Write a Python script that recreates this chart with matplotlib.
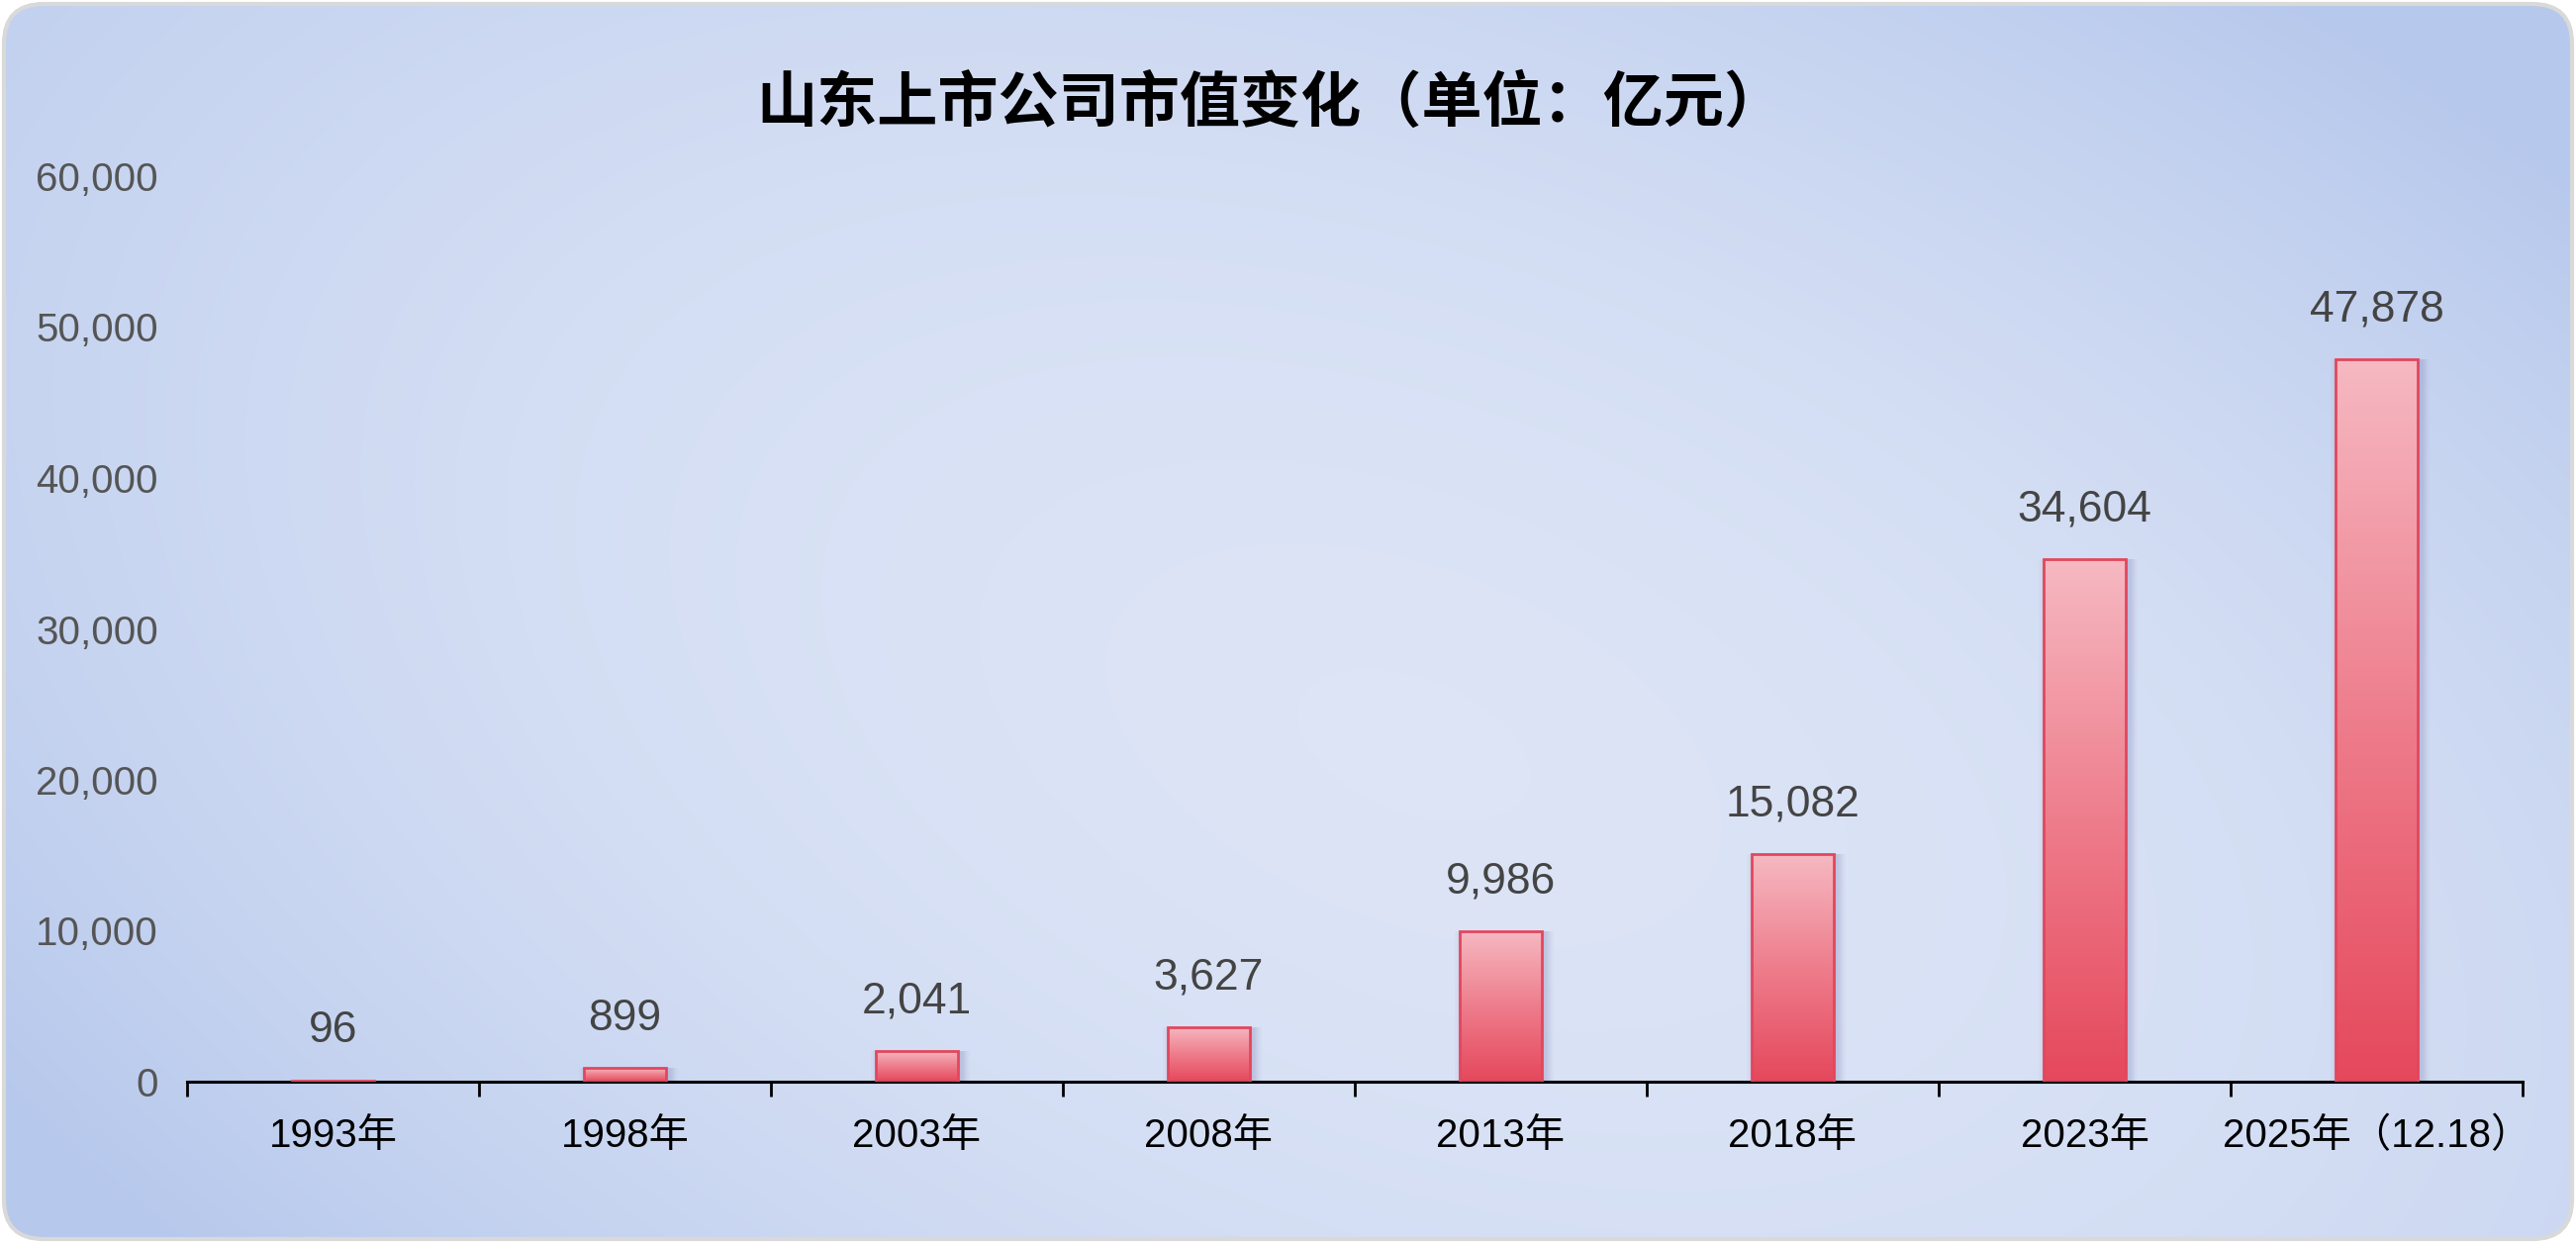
import numpy as np
import matplotlib
matplotlib.use("Agg")
import matplotlib.pyplot as plt
from matplotlib.patches import FancyBboxPatch
from matplotlib.colors import LinearSegmentedColormap
from matplotlib.ticker import FuncFormatter

# --- data ---
years = ["1993年", "1998年", "2003年", "2008年", "2013年", "2018年", "2023年", "2025年（12.18）"]
values = [96, 899, 2041, 3627, 9986, 15082, 34604, 47878]
yticks = [0, 10000, 20000, 30000, 40000, 50000, 60000]
title = "山东上市公司市值变化（单位：亿元）"

LATIN_CJK = ["Liberation Sans", "Noto Sans CJK SC", "DejaVu Sans"]
plt.rcParams["font.family"] = LATIN_CJK

W, H = 2603, 1256
fig = plt.figure(figsize=(W / 100, H / 100), dpi=100)
fig.patch.set_facecolor("white")

# --- background panel with soft gradient and rounded border ---
bg = fig.add_axes([0, 0, 1, 1], zorder=0)
bg.set_xlim(0, W)
bg.set_ylim(H, 0)
bg.axis("off")

u = np.linspace(0, 1, 400)[None, :]
w = np.linspace(0, 1, 200)[:, None]
d = ((u - 0.5) * W - (w - 0.5) * H) / (0.5 * W + 0.5 * H)
r2 = 0.5 * ((u - 0.55) / 0.5) ** 2 + 0.5 * ((w - 0.6) / 0.5) ** 2
s = np.clip(0.75 * d ** 2 + 0.45 * r2, 0, 1)
bg_cmap = LinearSegmentedColormap.from_list("bg", ["#dce4f6", "#b6c8ec"])
panel = FancyBboxPatch((4, 4), W - 8, H - 8, boxstyle="round,pad=0,rounding_size=40",
                       facecolor="none", edgecolor="#d9d9d9", linewidth=3, zorder=3)
bg.add_patch(panel)
im = bg.imshow(s, cmap=bg_cmap, vmin=0, vmax=1, extent=(0, W, H, 0),
               aspect="auto", interpolation="bicubic", zorder=1)
im.set_clip_path(panel)

# --- main chart ---
ax = fig.add_axes([189 / W, 163 / H, 2360 / W, 915 / H], zorder=1)
ax.patch.set_alpha(0)
x = np.arange(len(years))
bw = 0.28
ax.set_xlim(-0.5, len(years) - 0.5)
ax.set_ylim(0, 60000)

# soft shadow on the right of each bar
for k in range(8):
    ax.bar(x + 0.012, values, width=bw + 0.008 * k, color="#7a6fa8",
           alpha=0.035, linewidth=0, zorder=1)

bar_cmap = LinearSegmentedColormap.from_list("bar", ["#e5485c", "#ee7d8c", "#f6b9c2"])
grad = np.linspace(0, 1, 256)[:, None]
bars = ax.bar(x, values, width=bw, facecolor="none", edgecolor="#e2475d",
              linewidth=2, zorder=3)
for rect in bars:
    x0, y0 = rect.get_x(), rect.get_y()
    gi = ax.imshow(grad, cmap=bar_cmap, origin="lower", aspect="auto",
                   extent=(x0, x0 + rect.get_width(), y0, y0 + rect.get_height()),
                   zorder=2)
    gi.set_clip_path(rect)
ax.set_xlim(-0.5, len(years) - 0.5)
ax.set_ylim(0, 60000)

for xi, v in zip(x, values):
    ax.annotate(f"{v:,}", (xi, v), xytext=(0, 36), textcoords="offset points",
                ha="center", va="center", fontsize=32, color="#444444",
                family=LATIN_CJK, zorder=4)

# axes styling
for side in ["left", "top", "right"]:
    ax.spines[side].set_visible(False)
ax.spines["bottom"].set_linewidth(2.2)
ax.spines["bottom"].set_color("black")

ax.set_xticks(x)
ax.set_xticklabels(years, fontsize=29, color="black")
ax.set_xticks(np.arange(-0.5, len(years), 1), minor=True)
ax.tick_params(axis="x", which="major", length=0, pad=26)
ax.tick_params(axis="x", which="minor", length=11, width=2, color="black")

ax.set_yticks(yticks)
ax.yaxis.set_major_formatter(FuncFormatter(lambda v, p: f"{int(v):,}"))
ax.tick_params(axis="y", length=0, pad=21, labelsize=29, labelcolor="#555555")

fig.text(1284 / W, 1 - 105 / H, title, ha="center", va="center",
         fontsize=44, fontweight="bold", color="black",
         family=["Noto Sans CJK SC", "DejaVu Sans"])

fig.savefig("out.png", dpi=100, facecolor="white")
